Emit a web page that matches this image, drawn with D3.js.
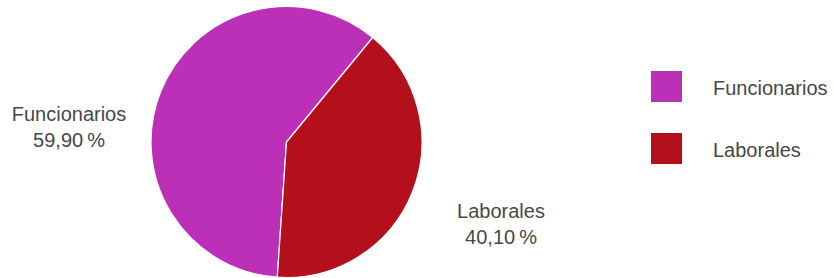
<!DOCTYPE html>
<html><head><meta charset="utf-8">
<script src="https://cdn.jsdelivr.net/npm/d3@7"></script>
<style>html,body{margin:0;padding:0;background:#fff;}svg{display:block;}</style>
</head><body>
<svg id="c" width="833" height="278"></svg>
<script>
const categories = ["Funcionarios", "Laborales"];
const values = [59.90, 40.10];
const valueLabels = ["59,90\u202F%", "40,10\u202F%"];
const colors = ["#bc30b8", "#b4101b"];

const svg = d3.select("#c");
const cx = 286.5, cy = 142, r = 135.5;
const font = "'Liberation Sans', Arial, Helvetica, sans-serif";

const startDeg = 183.9;
const pie = d3.pie().sort(null).value(d => d.v)
  .startAngle(startDeg * Math.PI / 180)
  .endAngle((startDeg + 360) * Math.PI / 180);
const data = categories.map((c, i) => ({c, v: values[i], i}));
const arcs = pie(data);
const arc = d3.arc().innerRadius(0).outerRadius(r);

const g = svg.append("g").attr("transform", `translate(${cx},${cy})`);
g.selectAll("path").data(arcs).join("path")
  .attr("d", arc)
  .attr("fill", d => colors[d.data.i])
  .attr("stroke", "#fff").attr("stroke-width", 1.2).attr("stroke-linejoin", "round");

// slice labels
const labelPos = [[69, 120.5], [501, 217.5]];
arcs.forEach((a, k) => {
  const i = a.data.i;
  const t = svg.append("text")
    .attr("text-anchor", "middle")
    .attr("font-family", font).attr("font-size", 20)
    .attr("fill", "#474747");
  t.append("tspan").attr("x", labelPos[i][0]).attr("y", labelPos[i][1]).text(categories[i]);
  t.append("tspan").attr("x", labelPos[i][0]).attr("y", labelPos[i][1] + 26).text(valueLabels[i]);
});

// legend
const lg = svg.append("g");
categories.forEach((c, i) => {
  const y0 = 71 + i * 62;
  lg.append("rect").attr("x", 651).attr("y", y0).attr("width", 31).attr("height", 31).attr("fill", colors[i]);
  lg.append("text").attr("x", 713).attr("y", y0 + 23.5)
    .attr("font-family", font).attr("font-size", 20).attr("fill", "#474747").text(c);
});
</script>
</body></html>
